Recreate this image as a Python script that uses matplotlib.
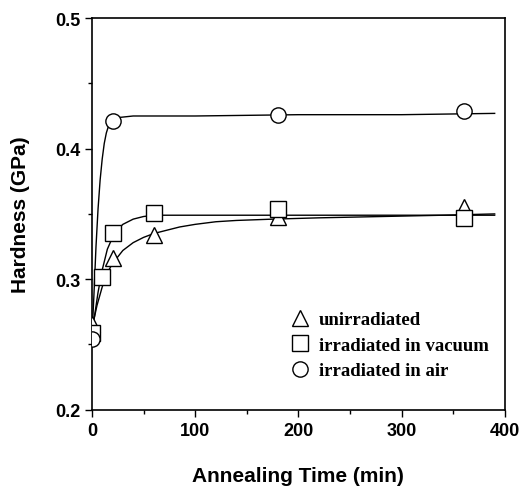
import matplotlib
matplotlib.use("Agg")
import matplotlib.pyplot as plt
from matplotlib.ticker import MultipleLocator

# measured points
t_unirr = [0, 20, 60, 180, 360]
h_unirr = [0.266, 0.316, 0.334, 0.348, 0.355]
t_vac = [0, 10, 20, 60, 180, 360]
h_vac = [0.259, 0.302, 0.335, 0.351, 0.354, 0.347]
t_air = [0, 20, 180, 360]
h_air = [0.254, 0.421, 0.426, 0.429]

# fitted curves
fit_t_unirr = [0, 5, 10, 15, 20, 30, 40, 50, 60, 70, 85, 100, 120, 140, 175, 220, 280, 340, 390]
fit_h_unirr = [0.262, 0.280, 0.294, 0.305, 0.312, 0.322, 0.328, 0.332, 0.335, 0.337, 0.340, 0.342, 0.344, 0.345, 0.346, 0.347, 0.348, 0.349, 0.350]
fit_t_vac = [0, 3, 6, 10, 15, 20, 25, 30, 40, 50, 60, 80, 120, 200, 300, 390]
fit_h_vac = [0.258, 0.274, 0.290, 0.307, 0.323, 0.332, 0.338, 0.342, 0.346, 0.348, 0.349, 0.349, 0.349, 0.349, 0.349, 0.349]
fit_t_air = [0, 2, 4, 6, 8, 10, 12, 14, 16, 18, 22, 28, 40, 100, 200, 300, 390]
fit_h_air = [0.254, 0.288, 0.325, 0.354, 0.376, 0.392, 0.404, 0.412, 0.417, 0.420, 0.423, 0.424, 0.425, 0.425, 0.426, 0.426, 0.427]

fig = plt.figure(figsize=(5.19, 4.89), dpi=100)
ax = fig.add_axes([0.177, 0.16, 0.796, 0.801])

for ft, fh in [(fit_t_unirr, fit_h_unirr), (fit_t_vac, fit_h_vac), (fit_t_air, fit_h_air)]:
    ax.plot(ft, fh, color="black", lw=1.0, zorder=2)

mk = dict(linestyle="none", mfc="white", mec="black", mew=1.0, ms=11, zorder=3)
ax.plot(t_unirr, h_unirr, marker="^", label="unirradiated", **mk)
ax.plot(t_vac, h_vac, marker="s", label="irradiated in vacuum", **mk)
ax.plot(t_air, h_air, marker="o", label="irradiated in air", **mk)

ax.set_xlim(0, 400)
ax.set_ylim(0.2, 0.5)
ax.xaxis.set_major_locator(MultipleLocator(100))
ax.xaxis.set_minor_locator(MultipleLocator(50))
ax.yaxis.set_major_locator(MultipleLocator(0.1))
ax.yaxis.set_minor_locator(MultipleLocator(0.05))
ax.tick_params(which="major", direction="out", length=5, width=1)
ax.tick_params(which="minor", direction="out", length=3, width=1)
ax.tick_params(top=False, right=False)
for lab in ax.get_xticklabels() + ax.get_yticklabels():
    lab.set_fontfamily("Liberation Sans")
    lab.set_fontweight("bold")
    lab.set_fontsize(13)
for sp in ax.spines.values():
    sp.set_linewidth(1.2)

ax.set_xlabel("Annealing Time (min)", fontfamily="Liberation Sans", fontweight="bold", fontsize=15, labelpad=20)
ax.set_ylabel("Hardness (GPa)", fontfamily="Liberation Sans", fontweight="bold", fontsize=15, labelpad=18)

leg = ax.legend(loc="upper left", bbox_to_anchor=(0.44, 0.295), frameon=False,
                prop=dict(family="Liberation Serif", weight="bold", size=13.5),
                handlelength=1.0, handletextpad=0.5, labelspacing=0.45, markerscale=1.0)

fig.savefig("out.png", dpi=100)
